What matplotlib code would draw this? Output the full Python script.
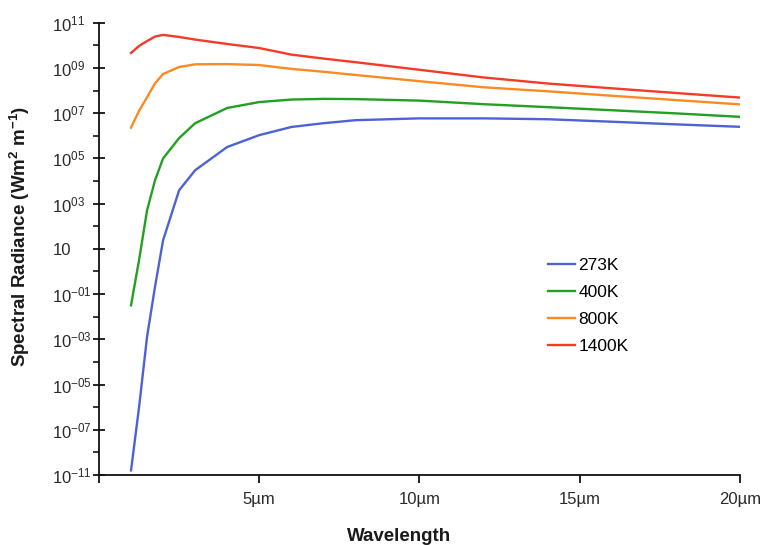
import matplotlib
matplotlib.use("Agg")
import matplotlib.pyplot as plt
from matplotlib.ticker import FixedLocator, NullFormatter

plt.rcParams["font.family"] = ["Liberation Sans", "DejaVu Sans"]
plt.rcParams["mathtext.fontset"] = "custom"
plt.rcParams["mathtext.rm"] = "Liberation Sans"
plt.rcParams["mathtext.bf"] = "Liberation Sans:bold"

# wavelength grid in micrometres
wavelength_um = [1.0, 1.25, 1.5, 1.75, 2.0, 2.5, 3.0, 4.0, 5.0, 6.0,
                 7.0, 8.0, 10.0, 12.0, 14.0, 16.0, 18.0, 20.0]

# spectral radiance per temperature (W m^-2 m^-1)
radiance_273k = [1.6e-9, 1.0e-6, 1.3e-3, 0.22, 24.0, 3.9e3, 3.0e4, 3.2e5, 1.07e6, 2.45e6,
                 3.6e6, 4.9e6, 5.9e6, 5.9e6, 5.4e6, 4.2e6, 3.2e6, 2.5e6]
radiance_400k = [3.2e-2, 3.2, 5.1e2, 1.1e4, 1.0e5, 7.9e5, 3.6e6, 1.7e7, 3.1e7, 4.0e7,
                 4.3e7, 4.2e7, 3.6e7, 2.5e7, 1.85e7, 1.35e7, 9.8e6, 6.9e6]
radiance_800k = [2.3e6, 1.26e7, 5.1e7, 2.1e8, 5.4e8, 1.1e9, 1.45e9, 1.48e9, 1.35e9, 9.1e8,
                 6.8e8, 4.9e8, 2.6e8, 1.4e8, 9.3e7, 5.9e7, 3.8e7, 2.45e7]
radiance_1400k = [4.6e9, 9.4e9, 1.55e10, 2.45e10, 2.9e10, 2.35e10, 1.8e10, 1.15e10, 7.6e9, 3.9e9,
                  2.6e9, 1.8e9, 8.3e8, 3.8e8, 2.05e8, 1.26e8, 7.8e7, 4.9e7]

series_labels = ["273K", "400K", "800K", "1400K"]
series_colors = ["#4d62d4", "#22a022", "#fb8a22", "#f53a28"]

x_ticks = [0, 5, 10, 15, 20]
x_tick_labels = ["", "5µm", "10µm", "15µm", "20µm"]

y_ticks = [1e11, 1e9, 1e7, 1e5, 1e3, 1e1, 1e-1, 1e-3, 1e-5, 1e-7, 1e-9]
y_tick_labels = [r"$\mathregular{10^{11}}$", r"$\mathregular{10^{09}}$",
                 r"$\mathregular{10^{07}}$", r"$\mathregular{10^{05}}$",
                 r"$\mathregular{10^{03}}$", "10",
                 r"$\mathregular{10^{-01}}$", r"$\mathregular{10^{-03}}$",
                 r"$\mathregular{10^{-05}}$", r"$\mathregular{10^{-07}}$",
                 r"$\mathregular{10^{-11}}$"]
y_minor = [1e10, 1e8, 1e6, 1e4, 1e2, 1e0, 1e-2, 1e-4, 1e-6, 1e-8]

fig = plt.figure(figsize=(7.65, 5.45), dpi=100)
ax = fig.add_axes([0.1294, 0.1284, 0.8379, 0.8299])

all_series = [radiance_273k, radiance_400k, radiance_800k, radiance_1400k]
for values, label, color in zip(all_series, series_labels, series_colors):
    ax.plot(wavelength_um, values, color=color, lw=1.7, label=label)

ax.set_yscale("log")
ax.set_xlim(0, 20)
ax.set_ylim(1e-9, 1e11)

ax.set_xticks(x_ticks)
ax.set_xticklabels(x_tick_labels)
ax.yaxis.set_major_locator(FixedLocator(y_ticks))
ax.set_yticklabels(y_tick_labels, ha="left")
ax.yaxis.set_minor_locator(FixedLocator(y_minor))
ax.yaxis.set_minor_formatter(NullFormatter())

for side in ("top", "right"):
    ax.spines[side].set_visible(False)
for side in ("left", "bottom"):
    ax.spines[side].set_linewidth(1.3)
    ax.spines[side].set_color("#111111")

# left-aligned tick labels: pad pushes their left edge out to a common column
ax.tick_params(axis="y", which="major", direction="inout", length=8, width=1.2,
               labelsize=12, labelcolor="#2a2a2a", pad=29.5)
ax.tick_params(axis="y", which="minor", direction="out", length=4, width=1.1)
ax.tick_params(axis="x", which="major", direction="out", length=6, width=1.2,
               labelsize=12, labelcolor="#2a2a2a", pad=6)

ax.set_xlabel("Wavelength", fontsize=13.5, fontweight="bold", color="#1a1a1a",
              va="top")
ax.xaxis.set_label_coords(0.468, -0.117)
ax.set_ylabel(r"Spectral Radiance (Wm$\mathbf{^{2}}$ m$\mathbf{^{-1}}$)",
              fontsize=13.5, fontweight="bold", color="#1a1a1a")
ax.yaxis.set_label_coords(-0.105, 0.527)

ax.legend(loc="upper left", bbox_to_anchor=(0.676, 0.514), frameon=False,
          fontsize=12.5, handlelength=1.55, handletextpad=0.2, labelspacing=0.67)

fig.savefig("out.png", dpi=100, facecolor="white")
